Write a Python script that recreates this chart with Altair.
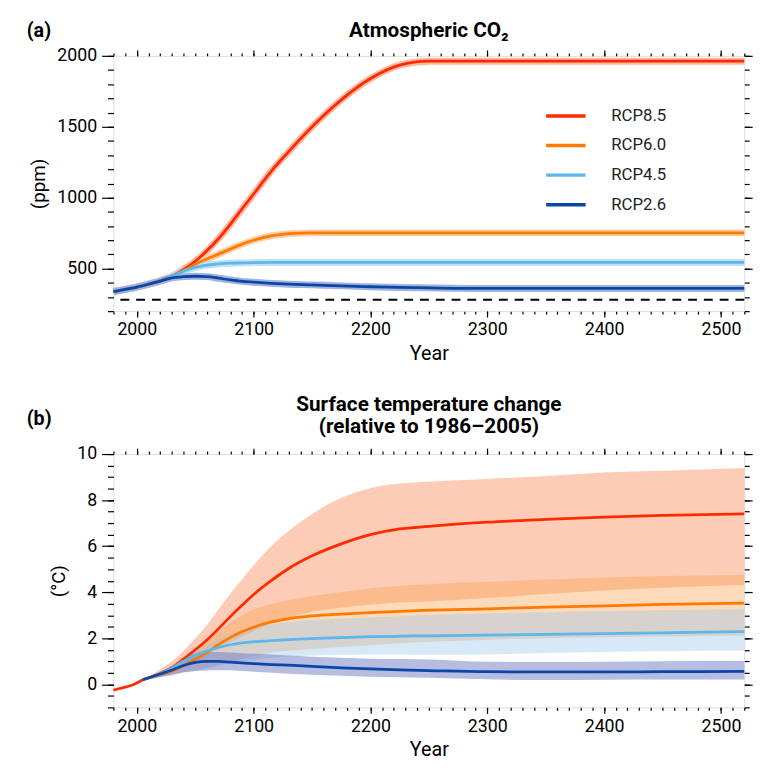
import altair as alt
import pandas as pd

FONT = "Roboto"

# ---------------- data: panel (a) atmospheric CO2 (ppm) ----------------
CO2_YEARS = [1980, 1990, 2000, 2010, 2020, 2030, 2040, 2050, 2060, 2070, 2080, 2090,
             2100, 2115, 2130, 2150, 2175, 2200, 2225, 2250, 2300, 2400, 2520]
CO2_RCP85 = [338, 354, 370, 390, 415, 447, 495, 552, 625, 712, 812, 920,
             1026, 1186, 1325, 1500, 1690, 1840, 1935, 1962, 1962, 1962, 1962]
CO2_RCP60 = [338, 354, 370, 390, 413, 445, 486, 530, 567, 602, 638, 672,
             700, 730, 746, 752, 752, 752, 752, 752, 752, 752, 752]
CO2_RCP45 = [338, 354, 370, 390, 413, 445, 482, 508, 525, 533, 538, 540,
             542, 543, 543, 543, 543, 543, 543, 543, 543, 543, 543]
CO2_RCP26 = [338, 354, 370, 390, 412, 435, 443, 446, 443, 432, 420, 410,
             404, 396, 390, 385, 378, 372, 367, 364, 360, 360, 360]
PREINDUSTRIAL_CO2 = [280]

# ---------------- data: panel (b) surface temperature change (°C) ----------------
TEMP_HIST_YEARS = [1980, 1985, 1990, 1995, 2000, 2005]
TEMP_HIST = [-0.25, -0.18, -0.12, -0.05, 0.06, 0.2]

TEMP_YEARS = [2005, 2020, 2030, 2040, 2050, 2060, 2070, 2080, 2090, 2100, 2115,
              2130, 2150, 2175, 2200, 2225, 2250, 2300, 2350, 2400, 2450, 2520]
T85_MEAN = [0.2, 0.47, 0.72, 1.1, 1.5, 1.93, 2.42, 2.94, 3.43, 3.9, 4.5, 5.03, 5.58, 6.1, 6.5, 6.75, 6.86, 7.04, 7.16, 7.26, 7.34, 7.4]
T85_HI = [0.22, 0.65, 1.0, 1.46, 2.0, 2.58, 3.26, 3.93, 4.56, 5.17, 6.0, 6.66, 7.4, 8.1, 8.52, 8.72, 8.8, 8.92, 9.05, 9.2, 9.28, 9.4]
T85_LO = [0.18, 0.33, 0.52, 0.78, 1.03, 1.3, 1.57, 1.83, 2.08, 2.32, 2.64, 2.9, 3.15, 3.34, 3.46, 3.55, 3.6, 3.75, 3.92, 4.08, 4.2, 4.33]
T60_MEAN = [0.2, 0.42, 0.58, 0.82, 1.1, 1.38, 1.73, 2.03, 2.28, 2.48, 2.71, 2.85, 2.97, 3.05, 3.11, 3.17, 3.22, 3.28, 3.35, 3.41, 3.47, 3.53]
T60_HI = [0.22, 0.55, 0.8, 1.15, 1.5, 1.9, 2.3, 2.68, 3.0, 3.25, 3.48, 3.65, 3.83, 4.0, 4.16, 4.28, 4.35, 4.45, 4.55, 4.64, 4.7, 4.76]
T60_LO = [0.18, 0.32, 0.42, 0.52, 0.62, 0.73, 0.86, 0.98, 1.1, 1.22, 1.38, 1.46, 1.54, 1.62, 1.7, 1.78, 1.85, 1.94, 2.0, 2.05, 2.08, 2.11]
T45_MEAN = [0.2, 0.45, 0.7, 1.0, 1.27, 1.45, 1.6, 1.72, 1.8, 1.85, 1.9, 1.94, 1.99, 2.03, 2.07, 2.09, 2.11, 2.14, 2.17, 2.2, 2.24, 2.29]
T45_HI = [0.22, 0.55, 0.8, 1.1, 1.4, 1.7, 1.95, 2.17, 2.35, 2.48, 2.62, 2.7, 2.79, 2.85, 2.9, 2.96, 3.02, 3.08, 3.13, 3.18, 3.22, 3.26]
T45_LO = [0.18, 0.3, 0.38, 0.5, 0.58, 0.68, 0.8, 0.92, 1.0, 1.07, 1.15, 1.2, 1.25, 1.28, 1.3, 1.3, 1.28, 1.3, 1.36, 1.41, 1.44, 1.47]
T26_MEAN = [0.2, 0.45, 0.62, 0.82, 0.95, 1.0, 1.0, 0.96, 0.93, 0.9, 0.86, 0.83, 0.78, 0.72, 0.67, 0.63, 0.6, 0.55, 0.54, 0.54, 0.55, 0.56]
T26_HI = [0.22, 0.55, 0.8, 1.15, 1.35, 1.4, 1.4, 1.38, 1.35, 1.33, 1.3, 1.25, 1.2, 1.15, 1.11, 1.1, 1.08, 0.98, 0.97, 0.98, 1.0, 1.01]
T26_LO = [0.18, 0.33, 0.42, 0.52, 0.58, 0.6, 0.61, 0.61, 0.58, 0.55, 0.5, 0.46, 0.42, 0.37, 0.33, 0.31, 0.29, 0.22, 0.19, 0.2, 0.21, 0.21]

SCENARIOS = ["RCP8.5", "RCP6.0", "RCP4.5", "RCP2.6"]
LINE_COLORS = ["#FF2A00", "#FF7A00", "#5DB7EC", "#0A46A6"]
HALO_COLORS = ["#FBB8A2", "#FCCFA8", "#BFE0F5", "#A2B2DE"]
BAND_COLORS = ["#FA9A6E", "#FAA250", "#9BC6EB", "#6F79C3"]
BAND_OPACITY = [0.5, 0.4, 0.4, 0.5]

TITLE_A = "Atmospheric CO₂"
TITLE_B = ["Surface temperature change", "(relative to 1986–2005)"]

# ---------------- tables ----------------
co2_series = [CO2_RCP85, CO2_RCP60, CO2_RCP45, CO2_RCP26]
co2_rows = []
for i, s in enumerate(SCENARIOS):
    for y, v in zip(CO2_YEARS, co2_series[i]):
        co2_rows.append({"year": y, "ppm": v, "scenario": s, "halo": HALO_COLORS[i], "order": i})
co2_df = pd.DataFrame(co2_rows)
pre_df = pd.DataFrame({"ppm": PREINDUSTRIAL_CO2})

t_mean = [T85_MEAN, T60_MEAN, T45_MEAN, T26_MEAN]
t_hi = [T85_HI, T60_HI, T45_HI, T26_HI]
t_lo = [T85_LO, T60_LO, T45_LO, T26_LO]
t_rows = []
for i, s in enumerate(SCENARIOS):
    for k, y in enumerate(TEMP_YEARS):
        t_rows.append({"year": y, "mean": t_mean[i][k], "hi": t_hi[i][k], "lo": t_lo[i][k],
                       "scenario": s, "line": LINE_COLORS[i], "band": BAND_COLORS[i],
                       "op": BAND_OPACITY[i]})
t_df = pd.DataFrame(t_rows)
hist_df = pd.DataFrame({"year": TEMP_HIST_YEARS, "mean": TEMP_HIST})

# ---------------- scales ----------------
W = 640
xs = alt.Scale(domain=[1980, 2520], nice=False, zero=False)
ys_a = alt.Scale(domain=[200, 2000], nice=False, zero=False)
ys_b = alt.Scale(domain=[-1, 10], nice=False, zero=False)

X_MAJOR = [2000, 2100, 2200, 2300, 2400, 2500]
X_MINOR = list(range(1980, 2521, 10))
YA_MAJOR = [500, 1000, 1500, 2000]
YA_MINOR = list(range(200, 2001, 100))
YB_MAJOR = [0, 2, 4, 6, 8, 10]
YB_MINOR = [v / 2 for v in range(-2, 21)]


def axis_layers(df, xf, yf, yscale, y_major, y_minor, ytitle, title_pad):
    common = dict(domain=False, grid=False, tickColor="black", tickWidth=1.2)
    specs = [
        (alt.Axis(orient="bottom", values=X_MAJOR, format="d", tickSize=6, labels=True,
                  labelFontSize=18, labelPadding=4, labelFont=FONT, labelColor="black",
                  title="Year", titleFont=FONT, titleFontSize=20, titleFontWeight="normal",
                  titlePadding=5, titleColor="black", **common),
         alt.Axis(orient="left", values=y_major, format="d", tickSize=12, labels=True,
                  labelFontSize=18, labelPadding=5, labelFont=FONT, labelColor="black",
                  title=ytitle, titleFont=FONT, titleFontSize=19, titleFontWeight="normal",
                  titlePadding=title_pad, titleColor="black", **common)),
        (alt.Axis(orient="bottom", values=X_MINOR, tickSize=3, labels=False, title=None, **common),
         alt.Axis(orient="left", values=y_minor, tickSize=6, labels=False, title=None, **common)),
        (alt.Axis(orient="top", values=X_MAJOR, tickSize=6, labels=False, title=None, **common),
         alt.Axis(orient="right", values=y_major, tickSize=8, labels=False, title=None, **common)),
        (alt.Axis(orient="top", values=X_MINOR, tickSize=3, labels=False, title=None, **common),
         alt.Axis(orient="right", values=y_minor, tickSize=5, labels=False, title=None, **common)),
    ]
    out = []
    for ax_x, ax_y in specs:
        out.append(
            alt.Chart(df).mark_point(opacity=0).encode(
                x=alt.X(f"{xf}:Q", scale=xs, axis=ax_x),
                y=alt.Y(f"{yf}:Q", scale=yscale, axis=ax_y),
            )
        )
    return out


def text_layer(txt, x, y, align="center", size=20):
    return alt.Chart(pd.DataFrame({"t": [txt]})).mark_text(
        align=align, baseline="middle", font=FONT, fontSize=size, fontWeight="bold", color="black"
    ).encode(text="t:N", x=alt.value(x), y=alt.value(y))


# ---------------- panel (a) ----------------
halo_a = alt.Chart(co2_df).mark_line(strokeWidth=7, interpolate="monotone").encode(
    x=alt.X("year:Q", scale=xs, axis=None),
    y=alt.Y("ppm:Q", scale=ys_a, axis=None),
    color=alt.Color("halo:N", scale=None),
    detail="scenario:N",
    order="order:Q",
)
lines_a = alt.Chart(co2_df).mark_line(strokeWidth=2.8, interpolate="monotone").encode(
    x=alt.X("year:Q", scale=xs, axis=None),
    y=alt.Y("ppm:Q", scale=ys_a, axis=None),
    color=alt.Color(
        "scenario:N",
        scale=alt.Scale(domain=SCENARIOS, range=LINE_COLORS),
        legend=alt.Legend(orient="none", legendX=437, legendY=39, title=None,
                          symbolType="stroke", symbolSize=1600, symbolStrokeWidth=3.5,
                          labelFont=FONT, labelFontSize=17, labelColor="#222222",
                          labelOffset=24, rowPadding=-12, padding=0),
    ),
    order="order:Q",
)
pre_rule = alt.Chart(pre_df).mark_rule(color="black", strokeWidth=2, strokeDash=[9, 7]).encode(
    y=alt.Y("ppm:Q", scale=ys_a, axis=None)
)

panel_a = alt.layer(
    pre_rule, halo_a, lines_a,
    text_layer("(a)", -88, -25, "left"),
    text_layer(TITLE_A, W / 2, -25, size=21),
    *axis_layers(co2_df, "year", "ppm", ys_a, YA_MAJOR, YA_MINOR, "(ppm)", 8),
).resolve_axis(x="independent", y="independent").resolve_scale(color="independent").properties(
    width=W, height=259,
)

# ---------------- panel (b) ----------------
bands_b = alt.Chart(t_df).mark_area(interpolate="monotone").encode(
    x=alt.X("year:Q", scale=xs, axis=None),
    y=alt.Y("lo:Q", scale=ys_b, axis=None),
    y2="hi:Q",
    color=alt.Color("band:N", scale=None),
    opacity=alt.Opacity("op:Q", scale=None),
    detail="scenario:N",
)
lines_b = alt.Chart(t_df).mark_line(strokeWidth=2.8, interpolate="monotone").encode(
    x=alt.X("year:Q", scale=xs, axis=None),
    y=alt.Y("mean:Q", scale=ys_b, axis=None),
    color=alt.Color("line:N", scale=None),
    detail="scenario:N",
)
hist_b = alt.Chart(hist_df).mark_line(strokeWidth=2.8, color=LINE_COLORS[0], interpolate="monotone").encode(
    x=alt.X("year:Q", scale=xs, axis=None),
    y=alt.Y("mean:Q", scale=ys_b, axis=None),
)

panel_b = alt.layer(
    bands_b, lines_b, hist_b,
    text_layer("(b)", -88, -35, "left"),
    text_layer(TITLE_B[0], W / 2, -50, size=21),
    text_layer(TITLE_B[1], W / 2, -27, size=21),
    *axis_layers(t_df, "year", "mean", ys_b, YB_MAJOR, YB_MINOR, "(°C)", 8),
).resolve_axis(x="independent", y="independent").resolve_scale(color="independent").properties(
    width=W, height=257,
)

chart = alt.vconcat(panel_a, panel_b, spacing=29).properties(
    padding={"left": 18, "top": 6, "right": 5, "bottom": 5}
).configure_view(stroke="black", strokeWidth=1.3).configure(background="white")

chart.save("out.html", embed_options={"renderer": "svg", "actions": False})
